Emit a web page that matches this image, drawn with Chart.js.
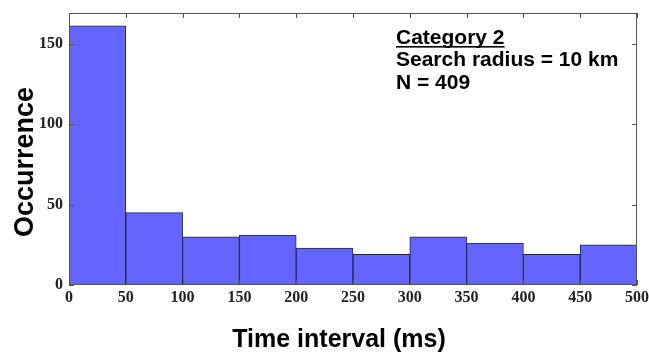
<!DOCTYPE html>
<html>
<head>
<meta charset="utf-8">
<title>Time interval histogram</title>
<script src="https://cdn.jsdelivr.net/npm/chart.js@4/dist/chart.umd.min.js"></script>
<style>
  html, body { margin: 0; padding: 0; background: #fff; }
  #wrap { width: 649px; height: 354px; }
</style>
</head>
<body>
<div id="wrap"><canvas id="histChart" width="649" height="354"></canvas></div>
<script>
// histogram bins (ms) and counts
const binStart = [0, 50, 100, 150, 200, 250, 300, 350, 400, 450];
const binWidth = 50;
const counts = [161, 45, 30, 31, 23, 19, 30, 26, 19, 25];
const xTicks = [0, 50, 100, 150, 200, 250, 300, 350, 400, 450, 500];
const yTicks = [0, 50, 100, 150];
const infoLines = ['Category 2', 'Search radius = 10 km', 'N = 409'];

const tickFont = { family: '"Liberation Serif", "Times New Roman", serif', weight: 'bold', size: 16 };

// box around the plot with inward ticks on all four sides, plus labels
const framePlugin = {
  id: 'frame',
  afterDraw(chart) {
    const { ctx, chartArea: a, scales } = chart;
    ctx.save();
    ctx.strokeStyle = '#555';
    ctx.lineWidth = 1;
    ctx.strokeRect(a.left + 0.5, a.top + 0.5, a.right - a.left - 1, a.bottom - a.top - 1);

    ctx.beginPath();
    xTicks.forEach(v => {
      const px = Math.round(scales.x.getPixelForValue(v)) + 0.5;
      ctx.moveTo(px, a.bottom); ctx.lineTo(px, a.bottom - 5);
      ctx.moveTo(px, a.top); ctx.lineTo(px, a.top + 5);
    });
    yTicks.forEach(v => {
      const py = Math.round(scales.y.getPixelForValue(v)) + 0.5;
      ctx.moveTo(a.left, py); ctx.lineTo(a.left + 5, py);
      ctx.moveTo(a.right, py); ctx.lineTo(a.right - 5, py);
    });
    ctx.stroke();

    // info text, top right
    ctx.fillStyle = '#000';
    ctx.font = 'bold 21px "Liberation Sans", Arial, sans-serif';
    ctx.textBaseline = 'alphabetic';
    ctx.textAlign = 'left';
    const tx = 396;
    infoLines.forEach((s, i) => ctx.fillText(s, tx, 44 + i * 22.3));
    const w = ctx.measureText(infoLines[0]).width;
    ctx.fillRect(tx, 46, w, 1.6);

    // axis titles
    ctx.textAlign = 'center';
    ctx.font = 'bold 25px "Liberation Sans", Arial, sans-serif';
    ctx.fillText('Time interval (ms)', (a.left + a.right) / 2 - 14, 347);

    ctx.translate(33, (a.top + a.bottom) / 2 + 13);
    ctx.rotate(-Math.PI / 2);
    ctx.font = 'bold 27px "Liberation Sans", Arial, sans-serif';
    ctx.fillText('Occurrence', 0, 0);
    ctx.restore();
  }
};

new Chart(document.getElementById('histChart'), {
  type: 'bar',
  data: {
    datasets: [{
      data: binStart.map((s, i) => ({ x: s + binWidth / 2, y: counts[i] })),
      backgroundColor: '#6464ff',
      borderColor: '#23234a',
      borderWidth: 1,
      borderSkipped: false,
      barPercentage: 1,
      categoryPercentage: 1
    }]
  },
  options: {
    responsive: false,
    animation: false,
    devicePixelRatio: 1,
    layout: { padding: { left: 0, right: 12, top: 13, bottom: 0 } },
    plugins: { legend: { display: false }, tooltip: { enabled: false } },
    scales: {
      x: {
        type: 'linear',
        min: 0,
        max: 500,
        offset: false,
        afterBuildTicks: s => { s.ticks = xTicks.map(v => ({ value: v })); },
        afterFit: s => { s.height = 69; s.paddingLeft = 0; s.paddingRight = 0; },
        grid: { display: false, drawTicks: false },
        border: { display: false },
        ticks: { font: tickFont, color: '#222', padding: 3, maxRotation: 0, autoSkip: false }
      },
      y: {
        min: 0,
        max: 169,
        afterBuildTicks: s => { s.ticks = yTicks.map(v => ({ value: v })); },
        afterFit: s => { s.width = 69; s.paddingTop = 0; s.paddingBottom = 0; },
        grid: { display: false, drawTicks: false },
        border: { display: false },
        ticks: { font: tickFont, color: '#222', padding: 6 }
      }
    }
  },
  plugins: [framePlugin]
});
</script>
</body>
</html>
